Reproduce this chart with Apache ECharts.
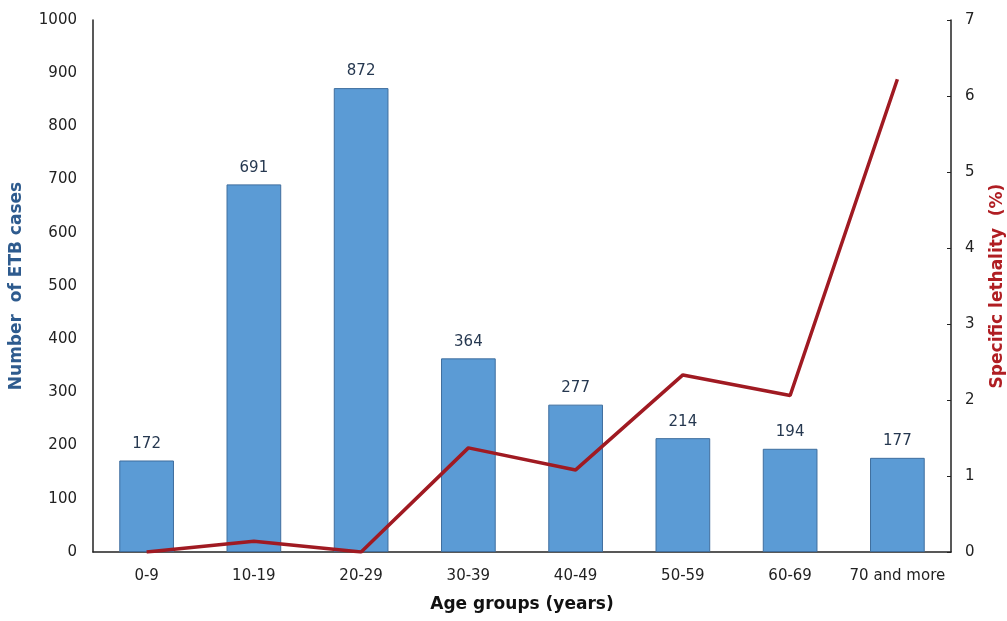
<!DOCTYPE html>
<html>
<head>
<meta charset="utf-8">
<script src="https://cdn.jsdelivr.net/npm/echarts@6/dist/echarts.min.js"></script>
<style>html,body{margin:0;padding:0;background:#fff;}#chart{width:1007px;height:621px;}</style>
</head>
<body>
<div id="chart"></div>
<script>
const categories = ['0-9','10-19','20-29','30-39','40-49','50-59','60-69','70 and more'];
const cases = [172, 691, 872, 364, 277, 214, 194, 177];
const lethality = [0, 0.14, 0, 1.37, 1.08, 2.33, 2.06, 6.22];
const leftTicks = {min: 0, max: 1000, interval: 100};
const rightTicks = {min: 0, max: 7, interval: 1};

const font = 'DejaVu Sans, Verdana, sans-serif';
const chart = echarts.init(document.getElementById('chart'));
chart.setOption({
  animation: false,
  backgroundColor: '#fff',
  grid: {left: 93, right: 56, top: 20, bottom: 69, outerBoundsMode: 'none', containLabel: false},
  xAxis: {
    type: 'category',
    data: categories,
    name: 'Age groups (years)',
    nameLocation: 'middle',
    nameGap: 44,
    nameTextStyle: {fontFamily: font, fontWeight: 'bold', fontSize: 17, color: '#111'},
    axisLine: {lineStyle: {color: '#222', width: 1.5}},
    axisTick: {show: false},
    axisLabel: {fontFamily: font, fontSize: 15, color: '#222', margin: 17, interval: 0}
  },
  yAxis: [{
    type: 'value',
    min: leftTicks.min, max: leftTicks.max, interval: leftTicks.interval,
    name: 'Number  of ETB cases',
    nameLocation: 'middle',
    nameGap: 68,
    nameTextStyle: {fontFamily: font, fontWeight: 'bold', fontSize: 17, color: '#2E5B8E'},
    axisLine: {show: true, lineStyle: {color: '#222', width: 1.5}},
    axisTick: {show: false},
    splitLine: {show: false},
    axisLabel: {fontFamily: font, fontSize: 15, color: '#222', margin: 16, formatter: v => String(v)}
  }, {
    type: 'value',
    position: 'right',
    min: rightTicks.min, max: rightTicks.max, interval: rightTicks.interval,
    name: 'Specific lethality  (%)',
    nameLocation: 'middle',
    nameGap: 38,
    nameRotate: 90,
    nameTextStyle: {fontFamily: font, fontWeight: 'bold', fontSize: 17, color: '#B01E23'},
    axisLine: {show: true, lineStyle: {color: '#222', width: 1.5}},
    axisTick: {show: true, inside: true, length: 4, lineStyle: {color: '#222'}},
    splitLine: {show: false},
    axisLabel: {fontFamily: font, fontSize: 15, color: '#222', margin: 14}
  }],
  series: [{
    type: 'bar',
    data: cases,
    yAxisIndex: 0,
    barWidth: '51%',
    itemStyle: {color: '#5B9BD5', borderColor: '#3F6E9E', borderWidth: 1},
    label: {show: true, position: 'top', distance: 9, fontFamily: font, fontSize: 15, color: '#263850'}
  }, {
    type: 'line',
    data: lethality,
    yAxisIndex: 1,
    symbol: 'none',
    lineStyle: {color: '#A01A22', width: 3.5},
    z: 5
  }]
});
</script>
</body>
</html>
